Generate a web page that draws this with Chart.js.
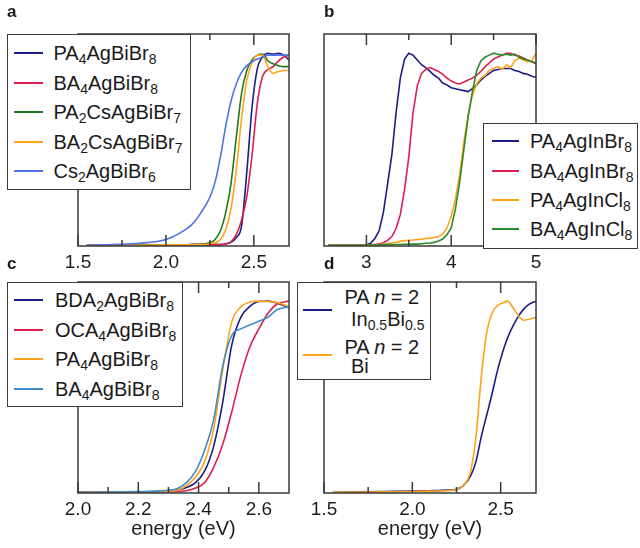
<!DOCTYPE html>
<html><head><meta charset="utf-8">
<script src="https://cdn.jsdelivr.net/npm/chart.js@4.4.1/dist/chart.umd.min.js"></script>
<style>
html,body{margin:0;padding:0;background:#fff;}
#wrap{position:relative;width:640px;height:548px;overflow:hidden;background:#fff;font-family:"Liberation Sans",Arial,Helvetica,sans-serif;color:#1a1a1a;}
canvas{position:absolute;}
.legend{position:absolute;background:#fff;border:1.5px solid #3a3a3a;box-sizing:border-box;z-index:2;}
.swatch{position:absolute;height:2px;}
.ltext{position:absolute;font-size:20px;line-height:20px;height:20px;white-space:nowrap;}
.ltext .s{font-size:14px;line-height:0;position:relative;top:4px;}
.plabel{position:absolute;font-weight:bold;font-size:17px;line-height:20px;z-index:3;}
</style></head>
<body><div id="wrap">
<canvas id="ca" width="320" height="274" style="left:0;top:0"></canvas>
<canvas id="cb" width="340" height="274" style="left:300px;top:0"></canvas>
<canvas id="cc" width="320" height="274" style="left:0;top:274px"></canvas>
<canvas id="cd" width="340" height="274" style="left:300px;top:274px"></canvas>
</div>
<script>
// ---------- DATA ----------
// Panel a
const aEnergy      = [1.55,1.7,1.85,2.0,2.1,2.15,2.2,2.25,2.28,2.31,2.34,2.37,2.4,2.43,2.46,2.49,2.52,2.55,2.58,2.61,2.64,2.67,2.7];
const aPA4AgBiBr8  = [0,0.001,0.002,0.002,0.002,0.003,0.003,0.003,0.003,0.003,0.008,0.015,0.04,0.10,0.38,0.72,0.92,0.98,1.0,0.995,1.0,0.99,0.965];
const aBA4AgBiBr8  = [0,0.001,0.002,0.002,0.002,0.003,0.003,0.003,0.003,0.003,0.006,0.018,0.055,0.13,0.255,0.47,0.74,0.88,0.915,0.93,0.96,0.98,0.99];
const aPA2CsAgBiBr7= [0,0.001,0.002,0.002,0.002,0.003,0.005,0.014,0.03,0.075,0.17,0.32,0.56,0.79,0.91,0.965,0.99,0.995,0.96,0.945,0.935,0.93,0.93];
const aBA2CsAgBiBr7= [0,0.001,0.001,0.002,0.002,0.002,0.003,0.008,0.014,0.03,0.08,0.19,0.39,0.66,0.86,0.95,0.99,0.99,0.93,0.895,0.905,0.91,0.91];
const aCs2AgBiBr6  = [0,0.004,0.01,0.03,0.075,0.11,0.17,0.25,0.33,0.46,0.62,0.75,0.84,0.90,0.935,0.955,0.97,0.98,0.99,0.99,0.99,0.99,0.99];
const aNames = ['PA{4}AgBiBr{8}','BA{4}AgBiBr{8}','PA{2}CsAgBiBr{7}','BA{2}CsAgBiBr{7}','Cs{2}AgBiBr{6}'];
const aTickValues = [1.5,2.0,2.5];
const aTickLabels = ['1.5','2.0','2.5'];
const aMinorTicks = [1.75,2.25];

// Panel b
const bEnergy = [2.55,2.75,2.95,3.0,3.05,3.1,3.15,3.2,3.25,3.3,3.35,3.4,3.45,3.5,3.55,3.6,3.65,3.7,3.75,3.8,3.85,3.9,3.95,4.0,4.05,4.1,4.15,4.2,4.25,4.3,4.35,4.4,4.45,4.5,4.55,4.6,4.65,4.7,4.75,4.8,4.85,4.9,4.95,5.0];
const bPA4AgInBr8 = [0,0,0.001,0.002,0.01,0.035,0.075,0.17,0.32,0.47,0.69,0.87,0.97,1.0,0.99,0.965,0.94,0.925,0.905,0.885,0.87,0.845,0.835,0.82,0.815,0.81,0.805,0.80,0.815,0.835,0.86,0.88,0.895,0.91,0.915,0.92,0.92,0.92,0.91,0.905,0.895,0.89,0.88,0.875];
const bBA4AgInBr8 = [0,0,0,0.001,0.002,0.003,0.008,0.013,0.025,0.045,0.087,0.16,0.29,0.46,0.69,0.83,0.895,0.915,0.925,0.915,0.905,0.89,0.87,0.855,0.845,0.84,0.85,0.86,0.87,0.885,0.905,0.93,0.95,0.97,0.98,0.99,1.0,1.0,0.99,0.985,0.975,0.965,0.955,0.945];
const bPA4AgInCl8 = [0,0,0,0.001,0.002,0.003,0.004,0.006,0.008,0.012,0.015,0.02,0.024,0.026,0.027,0.03,0.032,0.035,0.037,0.04,0.045,0.058,0.09,0.15,0.24,0.37,0.54,0.68,0.78,0.84,0.87,0.885,0.91,0.92,0.93,0.915,0.94,0.925,0.96,0.975,0.965,0.955,0.96,1.0];
const bBA4AgInCl8 = [0,0,0,0,0.001,0.001,0.002,0.002,0.003,0.003,0.004,0.004,0.005,0.005,0.006,0.006,0.008,0.01,0.012,0.015,0.022,0.032,0.055,0.09,0.19,0.33,0.50,0.67,0.80,0.91,0.96,0.98,0.99,1.0,0.995,0.99,0.995,0.99,0.995,0.98,0.97,0.965,0.955,0.95];
const bNames = ['PA{4}AgInBr{8}','BA{4}AgInBr{8}','PA{4}AgInCl{8}','BA{4}AgInCl{8}'];
const bTickValues = [3,4,5];
const bTickLabels = ['3','4','5'];
const bMinorTicks = [3.5,4.5];

// Panel c
const cEnergy = [2.0,2.1,2.2,2.25,2.3,2.33,2.36,2.39,2.42,2.45,2.48,2.51,2.54,2.57,2.6,2.63,2.66,2.7];
const cBDA2AgBiBr8 = [0,0.001,0.002,0.003,0.007,0.013,0.025,0.05,0.11,0.24,0.47,0.77,0.915,0.972,0.998,1.0,0.99,0.965];
const cOCA4AgBiBr8 = [0,0,0.001,0.002,0.003,0.005,0.008,0.022,0.05,0.13,0.25,0.42,0.61,0.76,0.855,0.935,0.985,1.0];
const cPA4AgBiBr8  = [0,0.001,0.002,0.003,0.006,0.011,0.035,0.08,0.16,0.33,0.64,0.89,0.97,0.995,1.0,0.998,0.993,0.97];
const cBA4AgBiBr8  = [0,0.001,0.003,0.005,0.01,0.02,0.05,0.11,0.22,0.38,0.66,0.82,0.855,0.875,0.895,0.915,0.955,0.97];
const cNames = ['BDA{2}AgBiBr{8}','OCA{4}AgBiBr{8}','PA{4}AgBiBr{8}','BA{4}AgBiBr{8}'];
const cTickValues = [2.0,2.2,2.4,2.6];
const cTickLabels = ['2.0','2.2','2.4','2.6'];
const cMinorTicks = [2.1,2.3,2.5];

// Panel d
const dEnergy = [1.55,1.7,1.85,2.0,2.1,2.2,2.25,2.29,2.33,2.36,2.39,2.42,2.45,2.48,2.51,2.54,2.57,2.6,2.63,2.66,2.7];
const dPAn2InBi = [0,0.002,0.004,0.006,0.008,0.011,0.015,0.036,0.085,0.16,0.29,0.40,0.51,0.63,0.73,0.81,0.87,0.92,0.958,0.983,1.0];
const dPAn2Bi   = [0,0.001,0.002,0.004,0.006,0.009,0.014,0.036,0.11,0.29,0.60,0.83,0.935,0.975,0.99,1.0,0.965,0.925,0.9,0.905,0.915];
const dNames = [['PA |n| = 2','In{0.5}Bi{0.5}'],['PA |n| = 2','Bi']];
const dTickValues = [1.5,2.0,2.5];
const dTickLabels = ['1.5','2.0','2.5'];
const dMinorTicks = [1.75,2.25];

const axisTitle = 'energy (eV)';
const panelLetters = ['a','b','c','d'];

// ---------- STYLE ----------
const FONT = '"Liberation Sans", Arial, Helvetica, sans-serif';
const NAVY='#1c1c86', CRIMSON='#dc1f4e', GREEN='#1f7a1f', ORANGE='#ffa31a', CORNFLOWER='#4d73e6', STEEL='#3d8cc8', BGREEN='#2a8a2a';

const frameTicksPlugin = {
  id: 'frameTicks',
  afterDatasetsDraw(chart, args, opts) {
    const {ctx, chartArea: a, scales: {x}} = chart;
    ctx.save();
    ctx.strokeStyle = '#3a3a3a'; ctx.lineWidth = 1.5;
    ctx.strokeRect(a.left, a.top, a.right - a.left, a.bottom - a.top);
    ctx.beginPath();
    const draw = (vals, len) => vals.forEach(v => {
      const px = x.getPixelForValue(v);
      ctx.moveTo(px, a.bottom); ctx.lineTo(px, a.bottom - len);
      ctx.moveTo(px, a.top); ctx.lineTo(px, a.top + len);
    });
    draw(opts.major || [], 11); draw(opts.minor || [], 6);
    ctx.stroke(); ctx.restore();
  }
};

const plain = t => t.replace(/[{}|]/g, '');

function makeChart(id, cfg) {
  return new Chart(document.getElementById(id), {
    type: 'line',
    data: { datasets: cfg.series.map(s => ({
      label: s.label,
      data: cfg.energy.map((e, i) => ({x: e, y: s.values[i]})),
      borderColor: s.color, backgroundColor: s.color, borderWidth: 1.6,
      pointRadius: 0, pointHoverRadius: 0, fill: false,
      tension: cfg.smooth ? 0.4 : 0,
      cubicInterpolationMode: cfg.smooth ? 'monotone' : 'default'
    })).reverse() },
    options: {
      responsive: false, animation: false, devicePixelRatio: 1,
      layout: { padding: cfg.pad },
      plugins: { legend: {display: false}, tooltip: {enabled: false},
                 frameTicks: {major: cfg.tickValues, minor: cfg.minor} },
      scales: {
        x: { type: 'linear', min: cfg.min, max: cfg.max,
          grid: {display: false, drawTicks: false}, border: {display: false},
          afterBuildTicks: s => { s.ticks = cfg.tickValues.map(v => ({value: v})); },
          afterFit: s => { s.height = cfg.axisH; },
          ticks: { padding: 5, autoSkip: false, maxRotation: 0,
                   font: {family: FONT, size: 19}, color: '#1e1e1e',
                   callback: (v, i) => cfg.tickLabels[i] },
          title: cfg.title ? { display: true, text: axisTitle, color: '#1e1e1e',
                   font: {family: FONT, size: 20}, padding: {top: 0, bottom: 7} } : {display: false}
        },
        y: { display: false, min: -0.004, max: 1.1 }
      }
    },
    plugins: [frameTicksPlugin]
  });
}

makeChart('ca', { energy: aEnergy, min: 1.5, max: 2.7, smooth: true,
  pad: {left: 78, top: 34, right: 31, bottom: 0}, axisH: 28, title: false,
  tickValues: aTickValues, tickLabels: aTickLabels, minor: aMinorTicks,
  series: [
    {label: plain(aNames[0]), values: aPA4AgBiBr8, color: NAVY},
    {label: plain(aNames[1]), values: aBA4AgBiBr8, color: CRIMSON},
    {label: plain(aNames[2]), values: aPA2CsAgBiBr7, color: GREEN},
    {label: plain(aNames[3]), values: aBA2CsAgBiBr7, color: ORANGE},
    {label: plain(aNames[4]), values: aCs2AgBiBr6, color: CORNFLOWER}]});

makeChart('cb', { energy: bEnergy, min: 2.5, max: 5.0, smooth: false,
  pad: {left: 24, top: 34, right: 104, bottom: 0}, axisH: 28, title: false,
  tickValues: bTickValues, tickLabels: bTickLabels, minor: bMinorTicks,
  series: [
    {label: plain(bNames[0]), values: bPA4AgInBr8, color: NAVY},
    {label: plain(bNames[1]), values: bBA4AgInBr8, color: CRIMSON},
    {label: plain(bNames[2]), values: bPA4AgInCl8, color: ORANGE},
    {label: plain(bNames[3]), values: bBA4AgInCl8, color: BGREEN}]});

makeChart('cc', { energy: cEnergy, min: 2.0, max: 2.7, smooth: true,
  pad: {left: 78, top: 8, right: 31, bottom: 0}, axisH: 55, title: true,
  tickValues: cTickValues, tickLabels: cTickLabels, minor: cMinorTicks,
  series: [
    {label: plain(cNames[0]), values: cBDA2AgBiBr8, color: NAVY},
    {label: plain(cNames[1]), values: cOCA4AgBiBr8, color: CRIMSON},
    {label: plain(cNames[2]), values: cPA4AgBiBr8, color: ORANGE},
    {label: plain(cNames[3]), values: cBA4AgBiBr8, color: STEEL}]});

makeChart('cd', { energy: dEnergy, min: 1.5, max: 2.7, smooth: true,
  pad: {left: 24, top: 8, right: 104, bottom: 0}, axisH: 55, title: true,
  tickValues: dTickValues, tickLabels: dTickLabels, minor: dMinorTicks,
  series: [
    {label: plain(dNames[0].join(' ')), values: dPAn2InBi, color: NAVY},
    {label: plain(dNames[1].join(' ')), values: dPAn2Bi, color: ORANGE}]});

// ---------- LEGENDS (HTML text) ----------
const wrap = document.getElementById('wrap');
const fmt = t => t.replace(/\{([^}]*)\}/g, '<span class="s">$1</span>').replace(/\|([^|]*)\|/g, '<i>$1</i>');
function buildLegend(box, items) {
  const L = document.createElement('div');
  L.className = 'legend';
  Object.assign(L.style, {left: box.l + 'px', top: box.t + 'px', width: box.w + 'px', height: box.h + 'px'});
  const ox = box.l + 1.5, oy = box.t + 1.5;
  items.forEach(it => {
    const sw = document.createElement('div');
    sw.className = 'swatch';
    Object.assign(sw.style, {left: Math.round(it.swX - ox) + 'px', top: Math.round(it.swY - oy - 1) + 'px',
                             width: it.swW + 'px', backgroundColor: it.color});
    L.appendChild(sw);
    it.lines.forEach(ln => {
      const t = document.createElement('div');
      t.className = 'ltext';
      t.innerHTML = fmt(ln.text);
      Object.assign(t.style, {left: (ln.x - ox) + 'px', top: (ln.y - 10 - oy) + 'px'});
      L.appendChild(t);
    });
  });
  wrap.appendChild(L);
}
function rows(names, colors, y0, step, swX, swW, tx) {
  return names.map((n, i) => ({color: colors[i], swX, swW, swY: y0 + i * step,
    lines: [{text: n, x: tx, y: y0 + i * step}]}));
}
buildLegend({l: 7, t: 34, w: 184, h: 156},
  rows(aNames, [NAVY, CRIMSON, GREEN, ORANGE, CORNFLOWER], 53.5, 29.6, 14, 29, 54));
buildLegend({l: 483, t: 123, w: 155, h: 126},
  rows(bNames, [NAVY, CRIMSON, ORANGE, BGREEN], 141.7, 29.4, 492, 27, 530.5));
buildLegend({l: 7, t: 282, w: 176, h: 125},
  rows(cNames, [NAVY, CRIMSON, ORANGE, STEEL], 300.5, 29.5, 14, 29, 55.5));
buildLegend({l: 297, t: 282, w: 134, h: 98}, [
  {color: NAVY, swX: 303, swW: 29, swY: 310,
   lines: [{text: dNames[0][0], x: 345, y: 297}, {text: dNames[0][1], x: 351.5, y: 319.5}]},
  {color: ORANGE, swX: 303, swW: 29, swY: 355,
   lines: [{text: dNames[1][0], x: 345, y: 347}, {text: dNames[1][1], x: 351.5, y: 366}]}]);

// panel letters
[[7, 2.4], [324, 2.4], [7, 254], [324, 254]].forEach((p, i) => {
  const d = document.createElement('div');
  d.className = 'plabel';
  d.textContent = panelLetters[i];
  Object.assign(d.style, {left: p[0] + 'px', top: p[1] + 'px'});
  wrap.appendChild(d);
});
</script>
</body></html>
